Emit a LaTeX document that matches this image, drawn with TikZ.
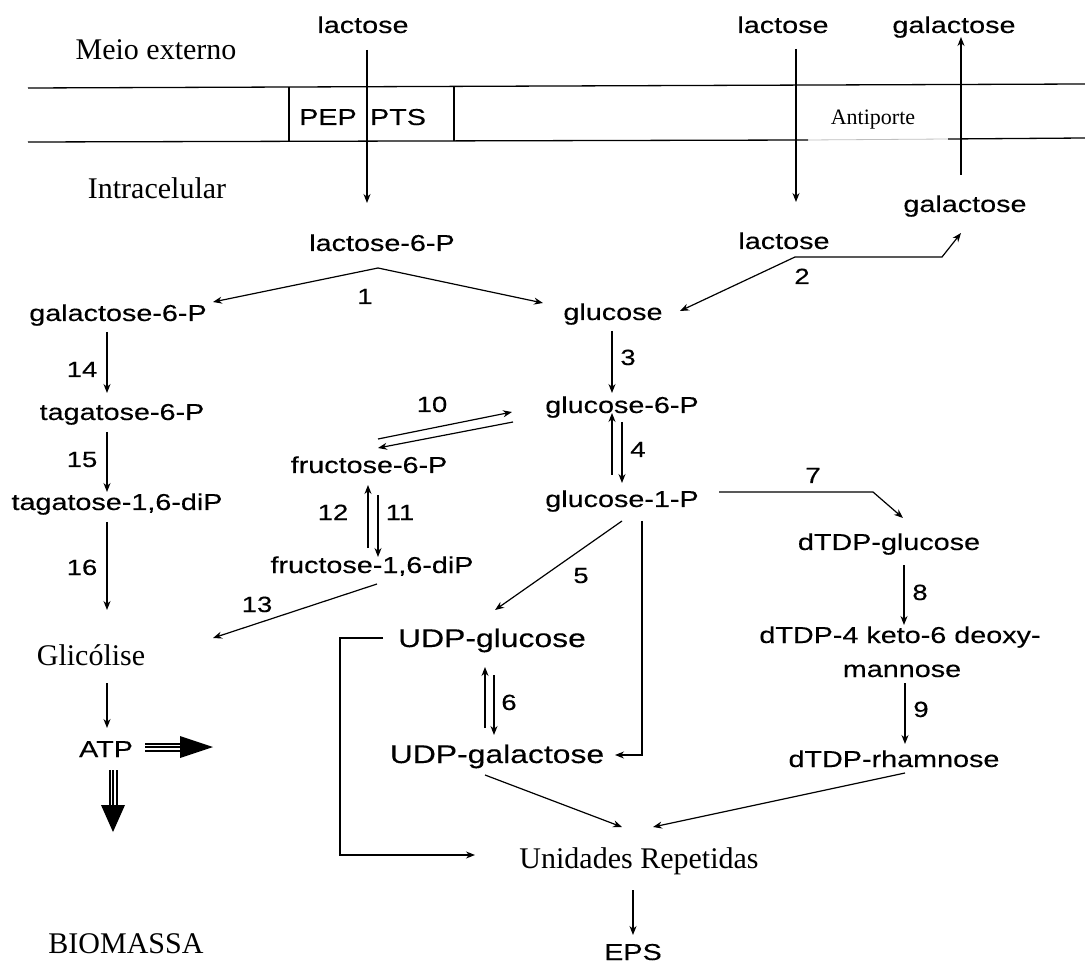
\documentclass[tikz,border=0pt]{standalone}
\usepackage{fontspec}
\setmainfont{Liberation Serif}
\newfontfamily\sansf[FakeStretch=1.25,FakeBold=0.3]{Liberation Sans}
\usetikzlibrary{arrows.meta,calc}
\begin{document}
\begin{tikzpicture}[x=1pt,y=-1pt,
  lab/.style={font=\sansf\fontsize{23}{26}\selectfont,anchor=base,inner sep=0pt},
  num/.style={font=\sansf\fontsize{22}{25}\selectfont,anchor=base,inner sep=0pt},
  udp/.style={font=\sansf\fontsize{25.5}{28}\selectfont,anchor=base,inner sep=0pt},
  ser/.style={font=\fontsize{30}{34}\selectfont,anchor=base,inner sep=0pt},
  sersm/.style={font=\fontsize{22}{26}\selectfont,anchor=base,inner sep=0pt},
  arr/.style={-{Stealth[length=9pt,width=7pt]},line width=1.2pt},
  memb/.style={line width=1.3pt},
  thick3/.style={line width=2pt}]
\useasboundingbox (0,0) rectangle (1085,965);

% membrane
\draw[memb] (28,88) -- (1085,84);
\draw[memb] (28,142) -- (808,140);
\draw[line width=0.8pt, black!25] (808,140) -- (948,139);
\draw[memb] (948,139) -- (1085,138);
\draw[memb] (289,87.5) -- (289,142);
\draw[memb] (454,87) -- (454,141.5);

% nodes
\node[ser] (meio) at (156,60) {Meio externo};
\node[lab] (lacA) at (363,33) {lactose};
\node[lab] (lacB) at (783,33) {lactose};
\node[lab] (galA) at (954,33) {galactose};
\node[lab] (pep) at (328,125) {PEP};
\node[lab] (pts) at (398,125) {PTS};
\node[sersm] (anti) at (873,125) {Antiporte};
\node[ser] (intra) at (157,199) {Intracelular};
\node[lab] (galB) at (965,212) {galactose};
\node[lab] (lac6p) at (382,251) {lactose-6-P};
\node[lab] (lacC) at (784,249) {lactose};
\node[lab] (gal6p) at (118,321) {galactose-6-P};
\node[lab] (glc) at (613,320) {glucose};
\node[lab] (tag6p) at (122,420) {tagatose-6-P};
\node[lab] (glc6p) at (622,413) {glucose-6-P};
\node[lab] (fru6p) at (369,473) {fructose-6-P};
\node[lab] (tag16p) at (117,510) {tagatose-1,6-diP};
\node[lab] (glc1p) at (622,507) {glucose-1-P};
\node[lab] (dglc) at (889,550) {dTDP-glucose};
\node[lab] (fru16p) at (372,573) {fructose-1,6-diP};
\node[lab] (ketoA) at (900,643) {dTDP-4 keto-6 deoxy-};
\node[lab] (ketoB) at (902,677) {mannose};
\node[udp] (udpglc) at (492,647) {UDP-glucose};
\node[ser] (glic) at (91,665) {Glicólise};
\node[lab] (atp) at (106,757) {ATP};
\node[udp] (udpgal) at (497,763) {UDP-galactose};
\node[lab] (rham) at (894,767) {dTDP-rhamnose};
\node[ser] (unid) at (639,868) {Unidades Repetidas};
\node[ser] (biom) at (126,953) {BIOMASSA};
\node[lab] (eps) at (633,960) {EPS};

% numbers
\node[num] (n1) at (365,304) {1};
\node[num] (n2) at (802,284) {2};
\node[num] (n3) at (628,365) {3};
\node[num] (n4) at (638,457) {4};
\node[num] (n5) at (581,583) {5};
\node[num] (n6) at (509,710) {6};
\node[num] (n7) at (813,483) {7};
\node[num] (n8) at (920,600) {8};
\node[num] (n9) at (921,717) {9};
\node[num] (n10) at (432,412) {10};
\node[num] (n11) at (400,520) {11};
\node[num] (n12) at (333,520) {12};
\node[num] (n13) at (257,612) {13};
\node[num] (n14) at (82,377) {14};
\node[num] (n15) at (82,467) {15};
\node[num] (n16) at (82,575) {16};

% transport
\draw[arr] ($(lacA.base)+(4,17)$) -- ($(lac6p.base)+(-15,-48)$);
\draw[arr] ($(lacB.base)+(13,16)$) -- ($(lacC.base)+(12,-47)$);
\draw[arr] ($(galB.base)+(-4,-37)$) -- ($(galA.base)+(7,4)$);

% reaction 1
\coordinate (v1) at ($(lac6p.base)+(-4,17)$);
\draw[arr] (v1) -- ($(gal6p.base)+(95,-19)$);
\draw[arr] (v1) -- ($(glc.base)+(-70,-17)$);

% reaction 2
\coordinate (v2) at ($(lacC.base)+(11,8)$);
\draw[arr] (v2) -- ($(galB.base)+(-23,45)$) -- ($(galB.base)+(-4,21)$);
\draw[arr] (v2) -- ($(glc.base)+(67,-9)$);

% 3, 4
\draw[arr] ($(glc.base)+(-1,11)$) -- ($(glc6p.base)+(-10,-20)$);
\draw[arr] ($(glc1p.base)+(-10,-32)$) -- ($(glc6p.base)+(-10,0)$);
\draw[arr] ($(glc6p.base)+(0,9)$) -- ($(glc1p.base)+(0,-24)$);

% 10
\draw[arr] ($(fru6p.base)+(9,-34)$) -- ($(glc6p.base)+(-110,-1)$);
\draw[arr] ($(glc6p.base)+(-109,9)$) -- ($(fru6p.base)+(9,-25)$);

% 11, 12
\draw[arr] ($(fru16p.base)+(-4,-25)$) -- ($(fru6p.base)+(-1,12)$);
\draw[arr] ($(fru6p.base)+(9,22)$) -- ($(fru16p.base)+(6,-16)$);

% 14, 15, 16
\draw[arr] ($(gal6p.base)+(-11,11)$) -- ($(tag6p.base)+(-15,-27)$);
\draw[arr] ($(tag6p.base)+(-15,12)$) -- ($(tag16p.base)+(-10,-18)$);
\draw[arr] ($(tag16p.base)+(-10,12)$) -- ($(glic.base)+(16,-55)$);

% 13
\draw[arr] ($(fru16p.base)+(5,11)$) -- ($(glic.base)+(122,-27)$);

% glicolise -> ATP
\draw[arr] ($(glic.base)+(16,18)$) -- ($(atp.base)+(1,-29)$);

% ATP thick arrows
\coordinate (atpR) at (213,747);
\coordinate (atpD) at (113,832);
\foreach \d in {-3.5,0,3.5}
  \draw[thick3] ($(atp.base)+(39,-10+\d)$) -- ($(atpR)+(-30,\d)$);
\fill ($(atpR)+(-33,-11)$) -- (atpR) -- ($(atpR)+(-33,11)$) -- cycle;
\foreach \d in {-3.5,0,3.5}
  \draw[thick3] ($(atp.base)+(7+\d,13)$) -- ($(atpD)+(\d,-24)$);
\fill ($(atpD)+(-12,-27)$) -- (atpD) -- ($(atpD)+(12,-27)$) -- cycle;

% 5
\draw[arr] ($(glc1p.base)+(0,14)$) -- ($(udpglc.base)+(3,-37)$);
% glc1p -> UDP-galactose
\draw[arr] ($(glc1p.base)+(20,14)$) |- ($(udpgal.base)+(118,-8)$);

% 6
\draw[arr] ($(udpgal.base)+(-12,-35)$) -- ($(udpglc.base)+(-7,20)$);
\draw[arr] ($(udpglc.base)+(2,28)$) -- ($(udpgal.base)+(-3,-28)$);

% UDP-glucose bracket
\draw[arr] ($(udpglc.base)+(-109,-9)$) -- (340,638) -- (340,855) -- ($(unid.base)+(-164,-13)$);

% to Unidades Repetidas
\draw[arr] ($(udpgal.base)+(-12,12)$) -- ($(unid.base)+(-17,-41)$);
\draw[arr] ($(rham.base)+(11,6)$) -- ($(unid.base)+(14,-41)$);
\draw[arr] ($(unid.base)+(-6,22)$) -- ($(eps.base)+(0,-25)$);

% 7, 8, 9
\draw[arr] ($(glc1p.base)+(97,-15)$) -- ($(dglc.base)+(-16,-58)$) -- ($(dglc.base)+(14,-32)$);
\draw[arr] ($(dglc.base)+(15,15)$) -- ($(ketoA.base)+(4,-18)$);
\draw[arr] ($(ketoB.base)+(3,6)$) -- ($(rham.base)+(11,-23)$);

\end{tikzpicture}
\end{document}
